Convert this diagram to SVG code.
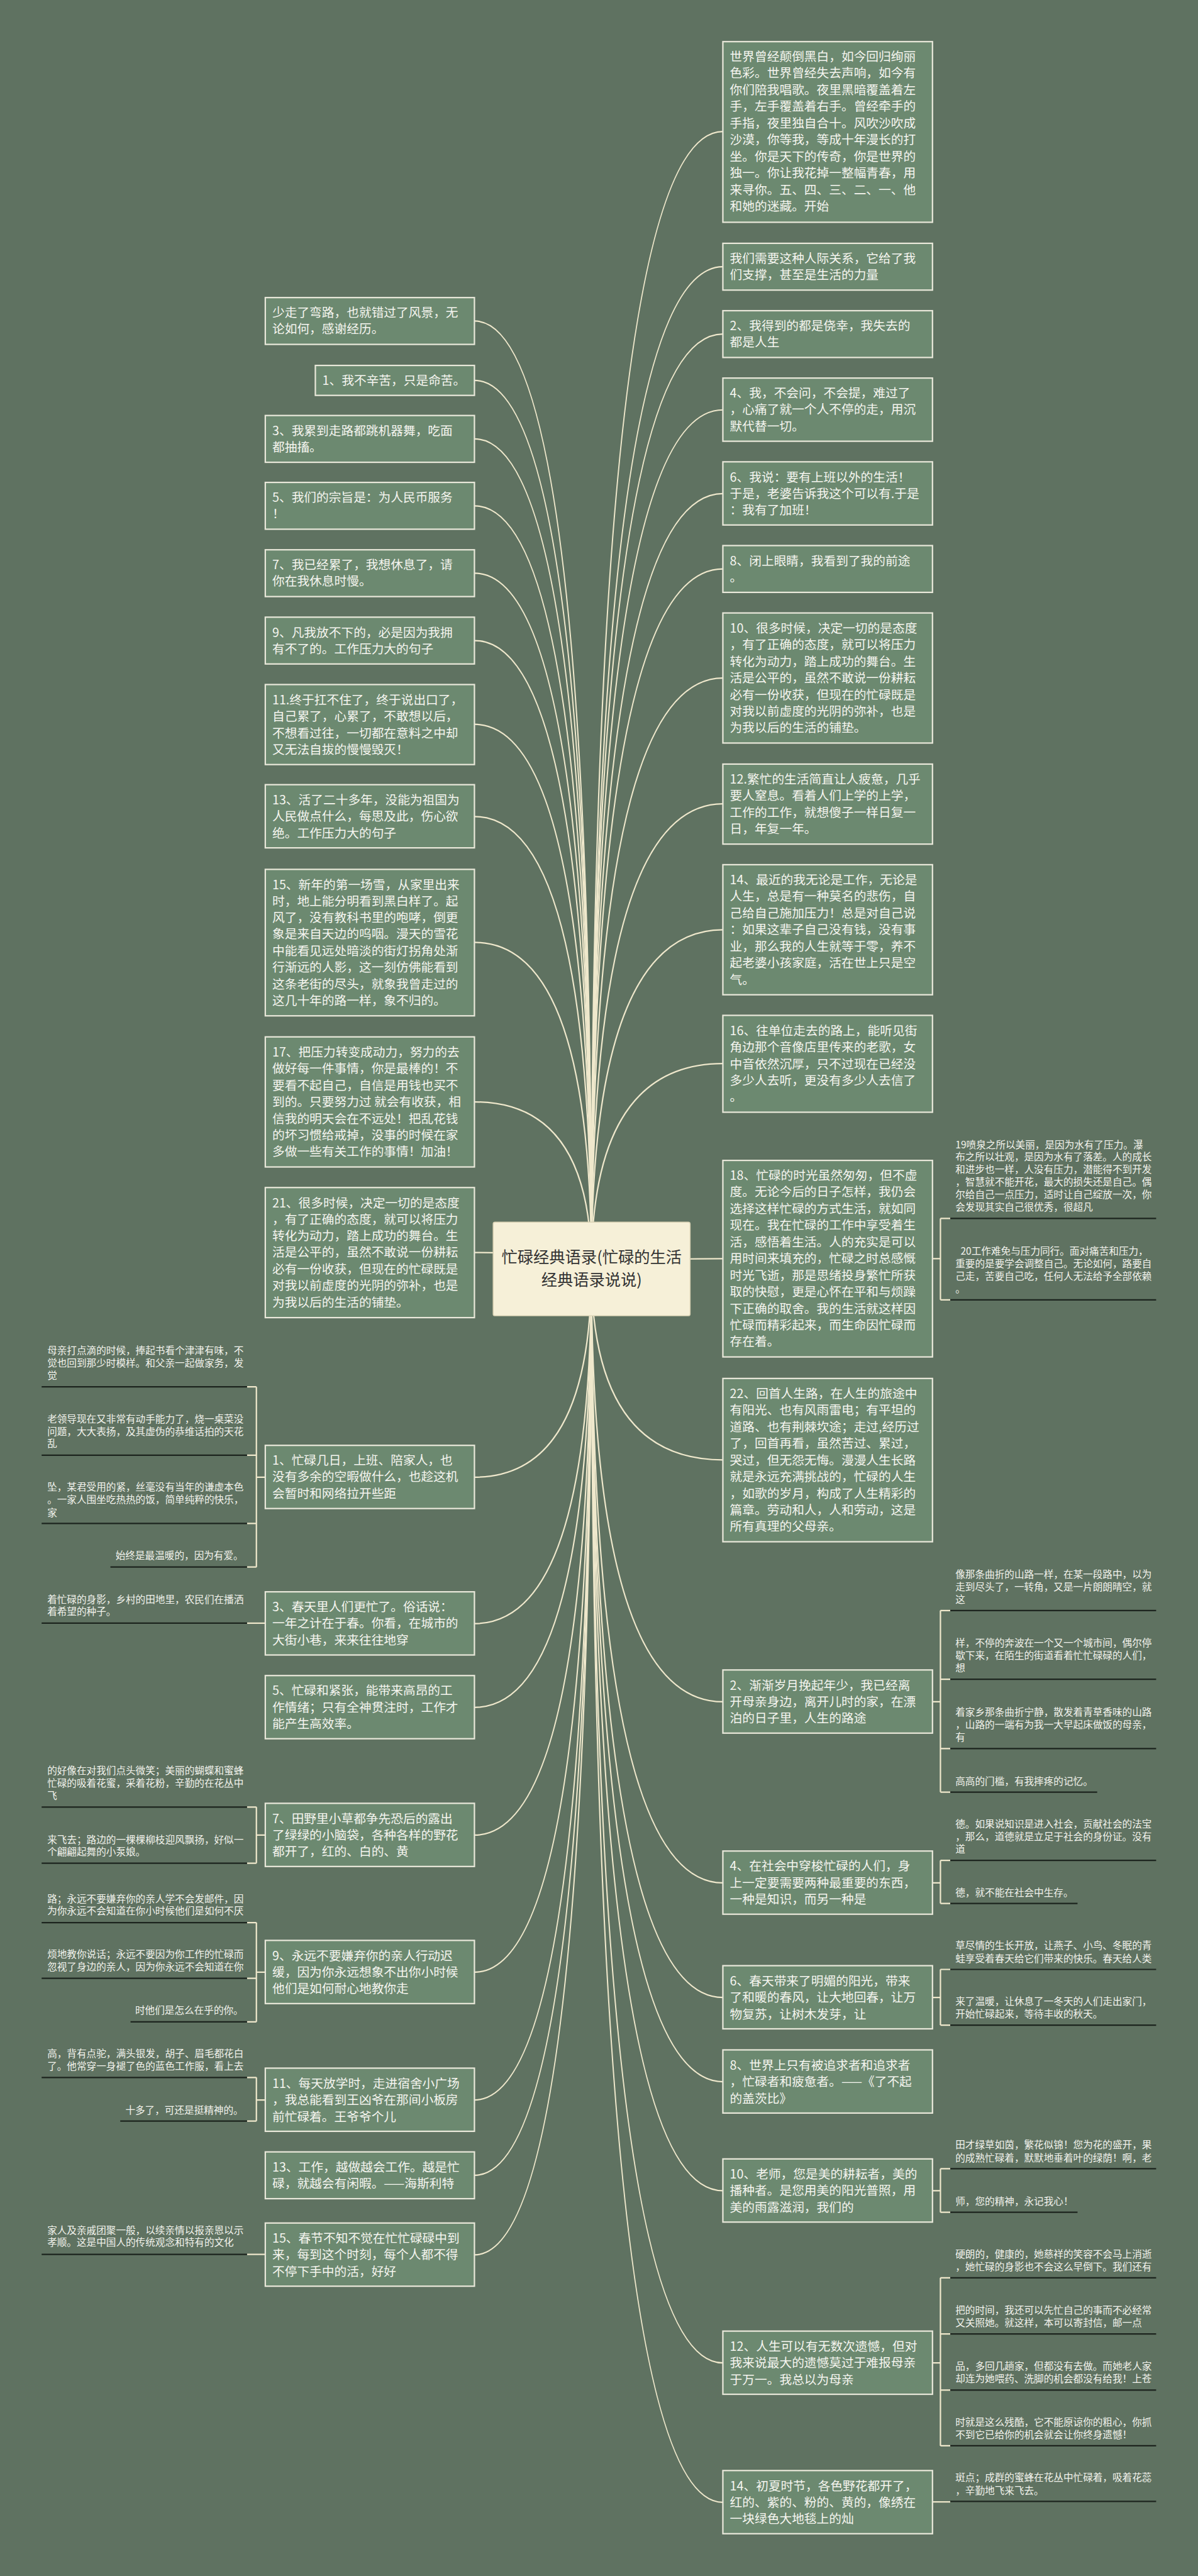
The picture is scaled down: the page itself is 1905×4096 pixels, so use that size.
<svg xmlns="http://www.w3.org/2000/svg" width="1905" height="4096" viewBox="0 0 1905 4096">
<style>
.nb{fill:#6c8970;stroke:#e9e8da;stroke-width:3}
.nt{font-family:"Noto Sans CJK SC","Noto Sans",sans-serif;font-size:26.5px;fill:#f5f5ef}
.lt{font-family:"Noto Sans CJK SC","Noto Sans",sans-serif;font-size:21px;fill:#f2f2ec}
.ln{fill:none;stroke:#efe8cc;stroke-width:3}
.ul{fill:none;stroke:#1c241e;stroke-width:3}
.cb{fill:#f6f0d8;stroke:#d9d2b4;stroke-width:2}
.ct{font-family:"Noto Sans CJK SC","Noto Sans",sans-serif;font-size:34px;fill:#333333;text-anchor:middle}
</style>
<rect x="0" y="0" width="1905" height="4096" fill="#5f7261"/>
<g transform="scale(0.744)">
<g id="connectors">
<path class="ln" d="M1264 2711 Q1264 686 1014 686"/>
<path class="ln" d="M1264 2711 Q1264 813 1014 813"/>
<path class="ln" d="M1264 2711 Q1264 938 1014 938"/>
<path class="ln" d="M1264 2711 Q1264 1081 1014 1081"/>
<path class="ln" d="M1264 2711 Q1264 1225 1014 1225"/>
<path class="ln" d="M1264 2711 Q1264 1369 1014 1369"/>
<path class="ln" d="M1264 2711 Q1264 1548 1014 1548"/>
<path class="ln" d="M1264 2711 Q1264 1745 1014 1745"/>
<path class="ln" d="M1264 2711 Q1264 2014 1014 2014"/>
<path class="ln" d="M1264 2711 Q1264 2355 1014 2355"/>
<path class="ln" d="M1264 2711 Q1264 2677 1014 2677"/>
<path class="ln" d="M1264 2711 Q1264 3157 1014 3157"/>
<path class="ln" d="M1264 2711 Q1264 3470 1014 3470"/>
<path class="ln" d="M1264 2711 Q1264 3649 1014 3649"/>
<path class="ln" d="M1264 2711 Q1264 3922 1014 3922"/>
<path class="ln" d="M1264 2711 Q1264 4215 1014 4215"/>
<path class="ln" d="M1264 2711 Q1264 4488 1014 4488"/>
<path class="ln" d="M1264 2711 Q1264 4649 1014 4649"/>
<path class="ln" d="M1264 2711 Q1264 4819 1014 4819"/>
<path class="ln" d="M1264 2711 Q1264 281 1545 281"/>
<path class="ln" d="M1264 2711 Q1264 570 1545 570"/>
<path class="ln" d="M1264 2711 Q1264 714 1545 714"/>
<path class="ln" d="M1264 2711 Q1264 876 1545 876"/>
<path class="ln" d="M1264 2711 Q1264 1055 1545 1055"/>
<path class="ln" d="M1264 2711 Q1264 1216 1545 1216"/>
<path class="ln" d="M1264 2711 Q1264 1449 1545 1449"/>
<path class="ln" d="M1264 2711 Q1264 1718 1545 1718"/>
<path class="ln" d="M1264 2711 Q1264 1987 1545 1987"/>
<path class="ln" d="M1264 2711 Q1264 2273 1545 2273"/>
<path class="ln" d="M1264 2711 Q1264 2690 1545 2690"/>
<path class="ln" d="M1264 2711 Q1264 3120 1545 3120"/>
<path class="ln" d="M1264 2711 Q1264 3637 1545 3637"/>
<path class="ln" d="M1264 2711 Q1264 4024 1545 4024"/>
<path class="ln" d="M1264 2711 Q1264 4269 1545 4269"/>
<path class="ln" d="M1264 2711 Q1264 4449 1545 4449"/>
<path class="ln" d="M1264 2711 Q1264 4682 1545 4682"/>
<path class="ln" d="M1264 2711 Q1264 5050 1545 5050"/>
<path class="ln" d="M1264 2711 Q1264 5348 1545 5348"/>
<!-- right brackets -->
<path class="ln" d="M1993 2690 H2010 M2010 2604 V2778 M2010 2604 H2031 M2010 2778 H2031"/>
<path class="ln" d="M1993 3637 H2010 M2010 3442 V3830 M2010 3442 H2031 M2010 3589 H2031 M2010 3737 H2031 M2010 3830 H2031"/>
<path class="ln" d="M1993 4024 H2010 M2010 3976 V4068 M2010 3976 H2031 M2010 4068 H2031"/>
<path class="ln" d="M1993 4269 H2010 M2010 4209 V4328 M2010 4209 H2031 M2010 4328 H2031"/>
<path class="ln" d="M1993 4682 H2010 M2010 4635 V4728 M2010 4635 H2031 M2010 4728 H2031"/>
<path class="ln" d="M1993 5050 H2010 M2010 4868 V5227 M2010 4868 H2031 M2010 4988 H2031 M2010 5108 H2031 M2010 5227 H2031"/>
<path class="ln" d="M1993 5347 H2031"/>
<!-- left brackets -->
<path class="ln" d="M567 3157 H548 M548 2964 V3349 M548 2964 H528 M548 3110 H528 M548 3256 H528 M548 3349 H528"/>
<path class="ln" d="M567 3469 H528"/>
<path class="ln" d="M567 3922 H548 M548 3862 V3982 M548 3862 H528 M548 3982 H528"/>
<path class="ln" d="M567 4215 H548 M548 4109 V4321 M548 4109 H528 M548 4228 H528 M548 4321 H528"/>
<path class="ln" d="M567 4488 H548 M548 4440 V4533 M548 4440 H528 M548 4533 H528"/>
<path class="ln" d="M567 4818 H528"/>
</g>

<g id="center">
<rect class="cb" x="1054" y="2612" width="421" height="200" rx="4"/>
<text class="ct"><tspan x="1264.5" y="2699">忙碌经典语录(忙碌的生活</tspan><tspan x="1264.5" y="2747">经典语录说说)</tspan></text>
</g>

<!-- LEFT COLUMN -->
<g id="L1"><rect class="nb" x="567" y="636" width="447" height="100"/><text class="nt"><tspan x="582" y="678">少走了弯路，也就错过了风景，无</tspan><tspan x="582" y="713">论如何，感谢经历。</tspan></text></g>
<g id="L2"><rect class="nb" x="674" y="781" width="340" height="64"/><text class="nt"><tspan x="689" y="823">1、我不辛苦，只是命苦。</tspan></text></g>
<g id="L3"><rect class="nb" x="567" y="888" width="447" height="100"/><text class="nt"><tspan x="582" y="930">3、我累到走路都跳机器舞，吃面</tspan><tspan x="582" y="965">都抽搐。</tspan></text></g>
<g id="L4"><rect class="nb" x="567" y="1031" width="447" height="100"/><text class="nt"><tspan x="582" y="1073">5、我们的宗旨是：为人民币服务</tspan><tspan x="582" y="1108">！</tspan></text></g>
<g id="L5"><rect class="nb" x="567" y="1175" width="447" height="100"/><text class="nt"><tspan x="582" y="1217">7、我已经累了，我想休息了，请</tspan><tspan x="582" y="1252">你在我休息时慢。</tspan></text></g>
<g id="L6"><rect class="nb" x="567" y="1319" width="447" height="100"/><text class="nt"><tspan x="582" y="1361">9、凡我放不下的，必是因为我拥</tspan><tspan x="582" y="1396">有不了的。工作压力大的句子</tspan></text></g>
<g id="L7"><rect class="nb" x="567" y="1463" width="447" height="171"/><text class="nt"><tspan x="582" y="1505">11.终于扛不住了，终于说出口了，</tspan><tspan x="582" y="1540">自己累了，心累了，不敢想以后，</tspan><tspan x="582" y="1576">不想看过往，一切都在意料之中却</tspan><tspan x="582" y="1611">又无法自拔的慢慢毁灭！</tspan></text></g>
<g id="L8"><rect class="nb" x="567" y="1677" width="447" height="135"/><text class="nt"><tspan x="582" y="1719">13、活了二十多年，没能为祖国为</tspan><tspan x="582" y="1754">人民做点什么，每思及此，伤心欲</tspan><tspan x="582" y="1790">绝。工作压力大的句子</tspan></text></g>
<g id="L9"><rect class="nb" x="567" y="1858" width="447" height="313"/><text class="nt"><tspan x="582" y="1900">15、新年的第一场雪，从家里出来</tspan><tspan x="582" y="1935">时，地上能分明看到黑白样了。起</tspan><tspan x="582" y="1971">风了，没有教科书里的咆哮，倒更</tspan><tspan x="582" y="2006">象是来自天边的呜咽。漫天的雪花</tspan><tspan x="582" y="2042">中能看见远处暗淡的街灯拐角处渐</tspan><tspan x="582" y="2077">行渐远的人影，这一刻仿佛能看到</tspan><tspan x="582" y="2113">这条老街的尽头，就象我曾走过的</tspan><tspan x="582" y="2148">这几十年的路一样，象不归的。</tspan></text></g>
<g id="L10"><rect class="nb" x="567" y="2216" width="447" height="278"/><text class="nt"><tspan x="582" y="2258">17、把压力转变成动力，努力的去</tspan><tspan x="582" y="2293">做好每一件事情，你是最棒的！不</tspan><tspan x="582" y="2329">要看不起自己，自信是用钱也买不</tspan><tspan x="582" y="2364">到的。只要努力过 就会有收获，相</tspan><tspan x="582" y="2400">信我的明天会在不远处！把乱花钱</tspan><tspan x="582" y="2435">的坏习惯给戒掉，没事的时候在家</tspan><tspan x="582" y="2471">多做一些有关工作的事情！加油！</tspan></text></g>
<g id="L11"><rect class="nb" x="567" y="2538" width="447" height="278"/><text class="nt"><tspan x="582" y="2580">21、很多时候，决定一切的是态度</tspan><tspan x="582" y="2615">，有了正确的态度，就可以将压力</tspan><tspan x="582" y="2651">转化为动力，踏上成功的舞台。生</tspan><tspan x="582" y="2686">活是公平的，虽然不敢说一份耕耘</tspan><tspan x="582" y="2722">必有一份收获，但现在的忙碌既是</tspan><tspan x="582" y="2757">对我以前虚度的光阴的弥补，也是</tspan><tspan x="582" y="2793">为我以后的生活的铺垫。</tspan></text></g>
<g id="L12"><rect class="nb" x="567" y="3089" width="447" height="135"/><text class="nt"><tspan x="582" y="3131">1、忙碌几日，上班、陪家人，也</tspan><tspan x="582" y="3166">没有多余的空暇做什么，也趁这机</tspan><tspan x="582" y="3202">会暂时和网络拉开些距</tspan></text></g>
<g id="L13"><rect class="nb" x="567" y="3402" width="447" height="135"/><text class="nt"><tspan x="582" y="3444">3、春天里人们更忙了。俗话说：</tspan><tspan x="582" y="3479">一年之计在于春。你看，在城市的</tspan><tspan x="582" y="3515">大街小巷，来来往往地穿</tspan></text></g>
<g id="L14"><rect class="nb" x="567" y="3581" width="447" height="135"/><text class="nt"><tspan x="582" y="3623">5、忙碌和紧张，能带来高昂的工</tspan><tspan x="582" y="3658">作情绪；只有全神贯注时，工作才</tspan><tspan x="582" y="3694">能产生高效率。</tspan></text></g>
<g id="L15"><rect class="nb" x="567" y="3854" width="447" height="135"/><text class="nt"><tspan x="582" y="3896">7、田野里小草都争先恐后的露出</tspan><tspan x="582" y="3931">了绿绿的小脑袋，各种各样的野花</tspan><tspan x="582" y="3967">都开了，红的、白的、黄</tspan></text></g>
<g id="L16"><rect class="nb" x="567" y="4147" width="447" height="135"/><text class="nt"><tspan x="582" y="4189">9、永远不要嫌弃你的亲人行动迟</tspan><tspan x="582" y="4224">缓，因为你永远想象不出你小时候</tspan><tspan x="582" y="4260">他们是如何耐心地教你走</tspan></text></g>
<g id="L17"><rect class="nb" x="567" y="4420" width="447" height="135"/><text class="nt"><tspan x="582" y="4462">11、每天放学时，走进宿舍小广场</tspan><tspan x="582" y="4497">，我总能看到王凶爷在那间小板房</tspan><tspan x="582" y="4533">前忙碌着。王爷爷个儿</tspan></text></g>
<g id="L18"><rect class="nb" x="567" y="4599" width="447" height="100"/><text class="nt"><tspan x="582" y="4641">13、工作，越做越会工作。越是忙</tspan><tspan x="582" y="4676">碌，就越会有闲暇。——海斯利特</tspan></text></g>
<g id="L19"><rect class="nb" x="567" y="4751" width="447" height="135"/><text class="nt"><tspan x="582" y="4793">15、春节不知不觉在忙忙碌碌中到</tspan><tspan x="582" y="4828">来，每到这个时刻，每个人都不得</tspan><tspan x="582" y="4864">不停下手中的活，好好</tspan></text></g>

<!-- LEFT LEAVES -->
<g id="LL1"><path class="ul" d="M89 2964 H528"/><text class="lt"><tspan x="101" y="2894">母亲打点滴的时候，捧起书看个津津有味，不</tspan><tspan x="101" y="2921">觉也回到那少时模样。和父亲一起做家务，发</tspan><tspan x="101" y="2947">觉</tspan></text></g>
<g id="LL2"><path class="ul" d="M89 3110 H528"/><text class="lt"><tspan x="101" y="3040">老领导现在又非常有动手能力了，烧一桌菜没</tspan><tspan x="101" y="3067">问题，大大表扬，及其虚伪的恭维话拍的天花</tspan><tspan x="101" y="3093">乱</tspan></text></g>
<g id="LL3"><path class="ul" d="M89 3256 H528"/><text class="lt"><tspan x="101" y="3186">坠，某君受用的紧，丝毫没有当年的谦虚本色</tspan><tspan x="101" y="3213">。一家人围坐吃热热的饭，简单纯粹的快乐，</tspan><tspan x="101" y="3240">家</tspan></text></g>
<g id="LL4"><path class="ul" d="M236 3349 H528"/><text class="lt"><tspan x="247" y="3332">始终是最温暖的，因为有爱。</tspan></text></g>
<g id="LL5"><path class="ul" d="M89 3469 H528"/><text class="lt"><tspan x="101" y="3426">着忙碌的身影，乡村的田地里，农民们在播洒</tspan><tspan x="101" y="3452">着希望的种子。</tspan></text></g>
<g id="LL6"><path class="ul" d="M89 3862 H528"/><text class="lt"><tspan x="101" y="3792">的好像在对我们点头微笑；美丽的蝴蝶和蜜蜂</tspan><tspan x="101" y="3819">忙碌的吸着花蜜，采着花粉，辛勤的在花丛中</tspan><tspan x="101" y="3846">飞</tspan></text></g>
<g id="LL7"><path class="ul" d="M89 3982 H528"/><text class="lt"><tspan x="101" y="3939">来飞去；路边的一棵棵柳枝迎风飘扬，好似一</tspan><tspan x="101" y="3965">个翩翩起舞的小泵娘。</tspan></text></g>
<g id="LL8"><path class="ul" d="M89 4109 H528"/><text class="lt"><tspan x="101" y="4066">路；永远不要嫌弃你的亲人学不会发邮件，因</tspan><tspan x="101" y="4092">为你永远不会知道在你小时候他们是如何不厌</tspan></text></g>
<g id="LL9"><path class="ul" d="M89 4228 H528"/><text class="lt"><tspan x="101" y="4184">烦地教你说话；永远不要因为你工作的忙碌而</tspan><tspan x="101" y="4211">忽视了身边的亲人，因为你永远不会知道在你</tspan></text></g>
<g id="LL10"><path class="ul" d="M279 4321 H528"/><text class="lt"><tspan x="289" y="4304">时他们是怎么在乎的你。</tspan></text></g>
<g id="LL11"><path class="ul" d="M89 4440 H528"/><text class="lt"><tspan x="101" y="4397">高，背有点驼，满头银发，胡子、眉毛都花白</tspan><tspan x="101" y="4423">了。他常穿一身褪了色的蓝色工作服，看上去</tspan></text></g>
<g id="LL12"><path class="ul" d="M257 4533 H528"/><text class="lt"><tspan x="268" y="4517">十多了，可还是挺精神的。</tspan></text></g>
<g id="LL13"><path class="ul" d="M89 4818 H528"/><text class="lt"><tspan x="101" y="4774">家人及亲戚团聚一般，以续亲情以报亲恩以示</tspan><tspan x="101" y="4800">孝顺。这是中国人的传统观念和特有的文化</tspan></text></g>

<!-- RIGHT COLUMN -->
<g id="R1"><rect class="nb" x="1545" y="89" width="448" height="386"/><text class="nt"><tspan x="1560" y="131">世界曾经颠倒黑白，如今回归绚丽</tspan><tspan x="1560" y="166">色彩。世界曾经失去声响，如今有</tspan><tspan x="1560" y="202">你们陪我唱歌。夜里黑暗覆盖着左</tspan><tspan x="1560" y="237">手，左手覆盖着右手。曾经牵手的</tspan><tspan x="1560" y="273">手指，夜里独自合十。风吹沙吹成</tspan><tspan x="1560" y="308">沙漠，你等我，等成十年漫长的打</tspan><tspan x="1560" y="344">坐。你是天下的传奇，你是世界的</tspan><tspan x="1560" y="379">独一。你让我花掉一整幅青春，用</tspan><tspan x="1560" y="415">来寻你。五、四、三、二、一、他</tspan><tspan x="1560" y="450">和她的迷藏。开始</tspan></text></g>
<g id="R2"><rect class="nb" x="1545" y="520" width="448" height="100"/><text class="nt"><tspan x="1560" y="562">我们需要这种人际关系，它给了我</tspan><tspan x="1560" y="597">们支撑，甚至是生活的力量</tspan></text></g>
<g id="R3"><rect class="nb" x="1545" y="664" width="448" height="100"/><text class="nt"><tspan x="1560" y="706">2、我得到的都是侥幸，我失去的</tspan><tspan x="1560" y="741">都是人生</tspan></text></g>
<g id="R4"><rect class="nb" x="1545" y="808" width="448" height="135"/><text class="nt"><tspan x="1560" y="850">4、我，不会问，不会提，难过了</tspan><tspan x="1560" y="885">，心痛了就一个人不停的走，用沉</tspan><tspan x="1560" y="921">默代替一切。</tspan></text></g>
<g id="R5"><rect class="nb" x="1545" y="987" width="448" height="135"/><text class="nt"><tspan x="1560" y="1029">6、我说：要有上班以外的生活！</tspan><tspan x="1560" y="1064">于是，老婆告诉我这个可以有.于是</tspan><tspan x="1560" y="1100">：我有了加班！</tspan></text></g>
<g id="R6"><rect class="nb" x="1545" y="1166" width="448" height="100"/><text class="nt"><tspan x="1560" y="1208">8、闭上眼睛，我看到了我的前途</tspan><tspan x="1560" y="1243">。</tspan></text></g>
<g id="R7"><rect class="nb" x="1545" y="1310" width="448" height="278"/><text class="nt"><tspan x="1560" y="1352">10、很多时候，决定一切的是态度</tspan><tspan x="1560" y="1387">，有了正确的态度，就可以将压力</tspan><tspan x="1560" y="1423">转化为动力，踏上成功的舞台。生</tspan><tspan x="1560" y="1458">活是公平的，虽然不敢说一份耕耘</tspan><tspan x="1560" y="1494">必有一份收获，但现在的忙碌既是</tspan><tspan x="1560" y="1529">对我以前虚度的光阴的弥补，也是</tspan><tspan x="1560" y="1565">为我以后的生活的铺垫。</tspan></text></g>
<g id="R8"><rect class="nb" x="1545" y="1633" width="448" height="171"/><text class="nt"><tspan x="1560" y="1675">12.繁忙的生活简直让人疲惫，几乎</tspan><tspan x="1560" y="1710">要人窒息。看着人们上学的上学，</tspan><tspan x="1560" y="1746">工作的工作，就想傻子一样日复一</tspan><tspan x="1560" y="1781">日，年复一年。</tspan></text></g>
<g id="R9"><rect class="nb" x="1545" y="1848" width="448" height="278"/><text class="nt"><tspan x="1560" y="1890">14、最近的我无论是工作，无论是</tspan><tspan x="1560" y="1925">人生，总是有一种莫名的悲伤，自</tspan><tspan x="1560" y="1961">己给自己施加压力！总是对自己说</tspan><tspan x="1560" y="1996">：如果这辈子自己没有钱，没有事</tspan><tspan x="1560" y="2032">业，那么我的人生就等于零，养不</tspan><tspan x="1560" y="2067">起老婆小孩家庭，活在世上只是空</tspan><tspan x="1560" y="2103">气。</tspan></text></g>
<g id="R10"><rect class="nb" x="1545" y="2170" width="448" height="207"/><text class="nt"><tspan x="1560" y="2212">16、往单位走去的路上，能听见街</tspan><tspan x="1560" y="2247">角边那个音像店里传来的老歌，女</tspan><tspan x="1560" y="2283">中音依然沉厚，只不过现在已经没</tspan><tspan x="1560" y="2318">多少人去听，更没有多少人去信了</tspan><tspan x="1560" y="2354">。</tspan></text></g>
<g id="R11"><rect class="nb" x="1545" y="2480" width="448" height="420"/><text class="nt"><tspan x="1560" y="2522">18、忙碌的时光虽然匆匆，但不虚</tspan><tspan x="1560" y="2557">度。无论今后的日子怎样，我仍会</tspan><tspan x="1560" y="2593">选择这样忙碌的方式生活，就如同</tspan><tspan x="1560" y="2628">现在。我在忙碌的工作中享受着生</tspan><tspan x="1560" y="2664">活，感悟着生活。人的充实是可以</tspan><tspan x="1560" y="2699">用时间来填充的，忙碌之时总感慨</tspan><tspan x="1560" y="2735">时光飞逝，那是思绪投身繁忙所获</tspan><tspan x="1560" y="2770">取的快慰，更是心怀在平和与烦躁</tspan><tspan x="1560" y="2806">下正确的取舍。我的生活就这样因</tspan><tspan x="1560" y="2841">忙碌而精彩起来，而生命因忙碌而</tspan><tspan x="1560" y="2877">存在着。</tspan></text></g>
<g id="R12"><rect class="nb" x="1545" y="2946" width="448" height="349"/><text class="nt"><tspan x="1560" y="2988">22、回首人生路，在人生的旅途中</tspan><tspan x="1560" y="3023">有阳光、也有风雨雷电；有平坦的</tspan><tspan x="1560" y="3059">道路、也有荆棘坎途；走过,经历过</tspan><tspan x="1560" y="3094">了，回首再看，虽然苦过、累过，</tspan><tspan x="1560" y="3130">哭过，但无怨无悔。漫漫人生长路</tspan><tspan x="1560" y="3165">就是永远充满挑战的，忙碌的人生</tspan><tspan x="1560" y="3201">，如歌的岁月，构成了人生精彩的</tspan><tspan x="1560" y="3236">篇章。劳动和人，人和劳动，这是</tspan><tspan x="1560" y="3272">所有真理的父母亲。</tspan></text></g>
<g id="R13"><rect class="nb" x="1545" y="3569" width="448" height="135"/><text class="nt"><tspan x="1560" y="3611">2、渐渐岁月挽起年少，我已经离</tspan><tspan x="1560" y="3646">开母亲身边，离开儿时的家，在漂</tspan><tspan x="1560" y="3682">泊的日子里，人生的路途</tspan></text></g>
<g id="R14"><rect class="nb" x="1545" y="3956" width="448" height="135"/><text class="nt"><tspan x="1560" y="3998">4、在社会中穿梭忙碌的人们，身</tspan><tspan x="1560" y="4033">上一定要需要两种最重要的东西，</tspan><tspan x="1560" y="4069">一种是知识，而另一种是</tspan></text></g>
<g id="R15"><rect class="nb" x="1545" y="4201" width="448" height="135"/><text class="nt"><tspan x="1560" y="4243">6、春天带来了明媚的阳光，带来</tspan><tspan x="1560" y="4278">了和暖的春风，让大地回春，让万</tspan><tspan x="1560" y="4314">物复苏，让树木发芽，让</tspan></text></g>
<g id="R16"><rect class="nb" x="1545" y="4381" width="448" height="135"/><text class="nt"><tspan x="1560" y="4423">8、世界上只有被追求者和追求者</tspan><tspan x="1560" y="4458">，忙碌者和疲惫者。——《了不起</tspan><tspan x="1560" y="4494">的盖茨比》</tspan></text></g>
<g id="R17"><rect class="nb" x="1545" y="4614" width="448" height="135"/><text class="nt"><tspan x="1560" y="4656">10、老师，您是美的耕耘者，美的</tspan><tspan x="1560" y="4691">播种者。是您用美的阳光普照，用</tspan><tspan x="1560" y="4727">美的雨露滋润，我们的</tspan></text></g>
<g id="R18"><rect class="nb" x="1545" y="4982" width="448" height="135"/><text class="nt"><tspan x="1560" y="5024">12、人生可以有无数次遗憾，但对</tspan><tspan x="1560" y="5059">我来说最大的遗憾莫过于难报母亲</tspan><tspan x="1560" y="5095">于万一。我总以为母亲</tspan></text></g>
<g id="R19"><rect class="nb" x="1545" y="5280" width="448" height="135"/><text class="nt"><tspan x="1560" y="5322">14、初夏时节，各色野花都开了，</tspan><tspan x="1560" y="5357">红的、紫的、粉的、黄的，像绣在</tspan><tspan x="1560" y="5393">一块绿色大地毯上的灿</tspan></text></g>

<!-- RIGHT LEAVES -->
<g id="RL1"><path class="ul" d="M2031 2604 H2471"/><text class="lt"><tspan x="2042" y="2454">19喷泉之所以美丽，是因为水有了压力。瀑</tspan><tspan x="2042" y="2480">布之所以壮观，是因为水有了落差。人的成长</tspan><tspan x="2042" y="2507">和进步也一样，人没有压力，潜能得不到开发</tspan><tspan x="2042" y="2534">，智慧就不能开花，最大的损失还是自己。偶</tspan><tspan x="2042" y="2561">尔给自己一点压力，适时让自己绽放一次，你</tspan><tspan x="2042" y="2588">会发现其实自己很优秀，很超凡</tspan></text></g>
<g id="RL2"><path class="ul" d="M2031 2778 H2471"/><text class="lt"><tspan x="2053" y="2681">20工作难免与压力同行。面对痛苦和压力，</tspan><tspan x="2042" y="2708">重要的是要学会调整自己。无论如何，路要自</tspan><tspan x="2042" y="2735">己走，苦要自己吃，任何人无法给予全部依赖</tspan><tspan x="2042" y="2762">。</tspan></text></g>
<g id="RL3"><path class="ul" d="M2031 3442 H2471"/><text class="lt"><tspan x="2042" y="3372">像那条曲折的山路一样，在某一段路中，以为</tspan><tspan x="2042" y="3399">走到尽头了，一转角，又是一片朗朗晴空，就</tspan><tspan x="2042" y="3426">这</tspan></text></g>
<g id="RL4"><path class="ul" d="M2031 3589 H2471"/><text class="lt"><tspan x="2042" y="3519">样，不停的奔波在一个又一个城市间，偶尔停</tspan><tspan x="2042" y="3546">歇下来，在陌生的街道看着忙忙碌碌的人们，</tspan><tspan x="2042" y="3573">想</tspan></text></g>
<g id="RL5"><path class="ul" d="M2031 3737 H2471"/><text class="lt"><tspan x="2042" y="3667">着家乡那条曲折宁静，散发着青草香味的山路</tspan><tspan x="2042" y="3694">，山路的一端有为我一大早起床做饭的母亲，</tspan><tspan x="2042" y="3721">有</tspan></text></g>
<g id="RL6"><path class="ul" d="M2031 3830 H2345"/><text class="lt"><tspan x="2042" y="3814">高高的门槛，有我摔疼的记忆。</tspan></text></g>
<g id="RL7"><path class="ul" d="M2031 3976 H2471"/><text class="lt"><tspan x="2042" y="3906">德。如果说知识是进入社会，贡献社会的法宝</tspan><tspan x="2042" y="3933">，那么，道德就是立足于社会的身份证。没有</tspan><tspan x="2042" y="3960">道</tspan></text></g>
<g id="RL8"><path class="ul" d="M2031 4068 H2303"/><text class="lt"><tspan x="2042" y="4052">德，就不能在社会中生存。</tspan></text></g>
<g id="RL9"><path class="ul" d="M2031 4209 H2471"/><text class="lt"><tspan x="2042" y="4166">草尽情的生长开放，让燕子、小鸟、冬眠的青</tspan><tspan x="2042" y="4193">蛙享受着春天给它们带来的快乐。春天给人类</tspan></text></g>
<g id="RL10"><path class="ul" d="M2031 4328 H2471"/><text class="lt"><tspan x="2042" y="4285">来了温暖，让休息了一冬天的人们走出家门，</tspan><tspan x="2042" y="4312">开始忙碌起来，等待丰收的秋天。</tspan></text></g>
<g id="RL11"><path class="ul" d="M2031 4635 H2471"/><text class="lt"><tspan x="2042" y="4592">田才绿草如茵，繁花似锦！您为花的盛开，果</tspan><tspan x="2042" y="4619">的成熟忙碌着，默默地垂着叶的绿荫！啊，老</tspan></text></g>
<g id="RL12"><path class="ul" d="M2031 4728 H2303"/><text class="lt"><tspan x="2042" y="4712">师，您的精神，永记我心！</tspan></text></g>
<g id="RL13"><path class="ul" d="M2031 4868 H2471"/><text class="lt"><tspan x="2042" y="4825">硬朗的，健康的，她慈祥的笑容不会马上消逝</tspan><tspan x="2042" y="4852">，她忙碌的身影也不会这么早倒下。我们还有</tspan></text></g>
<g id="RL14"><path class="ul" d="M2031 4988 H2471"/><text class="lt"><tspan x="2042" y="4945">把的时间，我还可以先忙自己的事而不必经常</tspan><tspan x="2042" y="4972">又关照她。就这样，本可以寄封信，邮一点</tspan></text></g>
<g id="RL15"><path class="ul" d="M2031 5108 H2471"/><text class="lt"><tspan x="2042" y="5065">品，多回几趟家，但都没有去做。而她老人家</tspan><tspan x="2042" y="5092">却连为她喂药、洗脚的机会都没有给我！上苍</tspan></text></g>
<g id="RL16"><path class="ul" d="M2031 5227 H2471"/><text class="lt"><tspan x="2042" y="5184">时就是这么残酷，它不能原谅你的粗心，你抓</tspan><tspan x="2042" y="5211">不到它已给你的机会就会让你终身遗憾！</tspan></text></g>
<g id="RL17"><path class="ul" d="M2031 5346 H2471"/><text class="lt"><tspan x="2042" y="5303">斑点；成群的蜜蜂在花丛中忙碌着，吸着花蕊</tspan><tspan x="2042" y="5330">，辛勤地飞来飞去。</tspan></text></g>
</g>
</svg>
